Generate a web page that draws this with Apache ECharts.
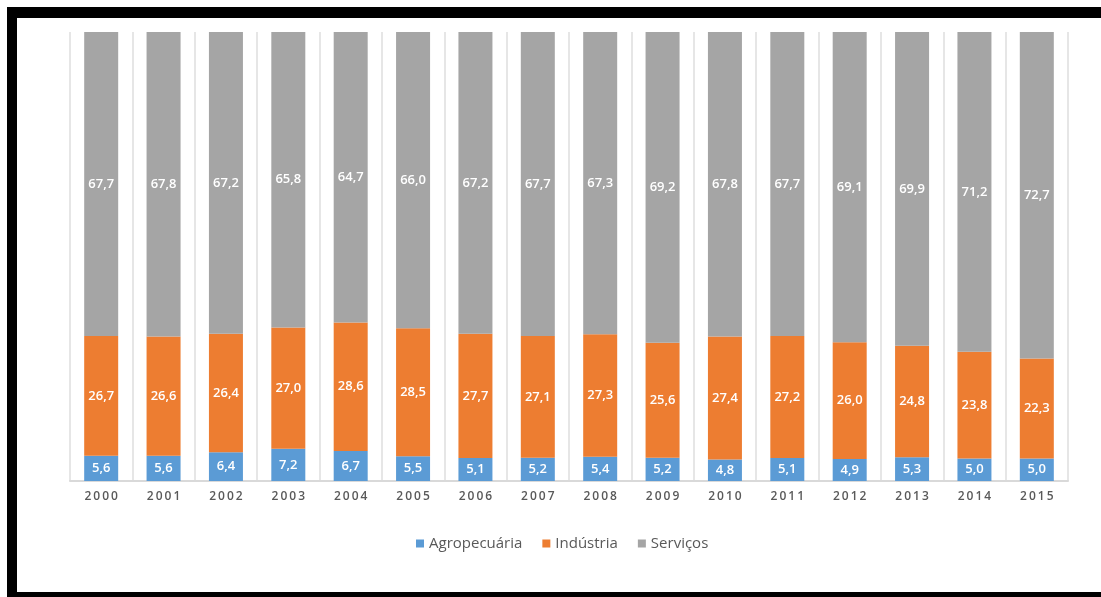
<!DOCTYPE html>
<html>
<head>
<meta charset="utf-8">
<script src="https://cdn.jsdelivr.net/npm/echarts@6/dist/echarts.min.js"></script>
<style>
html,body{margin:0;padding:0;background:#fff;}
#chart{width:1101px;height:597px;}
</style>
</head>
<body>
<div id="chart"></div>
<script>
var years = ['2000','2001','2002','2003','2004','2005','2006','2007','2008','2009','2010','2011','2012','2013','2014','2015'];
var agropecuaria = [5.6,5.6,6.4,7.2,6.7,5.5,5.1,5.2,5.4,5.2,4.8,5.1,4.9,5.3,5.0,5.0];
var industria = [26.7,26.6,26.4,27.0,28.6,28.5,27.7,27.1,27.3,25.6,27.4,27.2,26.0,24.8,23.8,22.3];
var servicos = [67.7,67.8,67.2,65.8,64.7,66.0,67.2,67.7,67.3,69.2,67.8,67.7,69.1,69.9,71.2,72.7];

var FONT = '"Open Sans", "Noto Sans", sans-serif';
function fmt(p){ return p.value.toFixed(1).replace('.', ','); }
function mk(name, data, color){
  return {
    name: name, type: 'bar', stack: 'total', data: data, barWidth: 34,
    itemStyle: {color: color},
    label: {show: true, position: 'inside', formatter: fmt, color: '#fff',
            fontSize: 13, fontWeight: 600, fontFamily: FONT}
  };
}
var chart = echarts.init(document.getElementById('chart'));
chart.setOption({
  animation: false,
  backgroundColor: '#fff',
  grid: {left: 70, right: 33, top: 32, bottom: 116},
  legend: {
    left: 411, top: 531, itemWidth: 8, itemHeight: 8, itemGap: 20,
    icon: 'rect',
    textStyle: {color: '#595959', fontSize: 15, fontFamily: FONT},
    data: ['Agropecuária','Indústria','Serviços']
  },
  xAxis: {
    type: 'category', data: years,
    axisLine: {lineStyle: {color: '#D9D9D9', width: 2}},
    axisTick: {show: false},
    splitLine: {show: true, lineStyle: {color: '#E6E6E6', width: 2}},
    axisLabel: {color: '#595959', fontSize: 12, fontWeight: 600, fontFamily: FONT, margin: 10,
      formatter: function(v){ return v.split('').join('\u2009'); }}
  },
  yAxis: {type: 'value', min: 0, max: 100, show: false, splitLine: {show: false}},
  graphic: [
    {type: 'rect', shape: {x: 7, y: 7, width: 1094, height: 11}, style: {fill: '#000'}},
    {type: 'rect', shape: {x: 7, y: 7, width: 10, height: 590}, style: {fill: '#000'}},
    {type: 'rect', shape: {x: 7, y: 592, width: 1094, height: 5}, style: {fill: '#000'}}
  ],
  series: [
    mk('Agropecuária', agropecuaria, '#5B9BD5'),
    mk('Indústria', industria, '#ED7D31'),
    mk('Serviços', servicos, '#A5A5A5')
  ]
});
</script>
</body>
</html>
